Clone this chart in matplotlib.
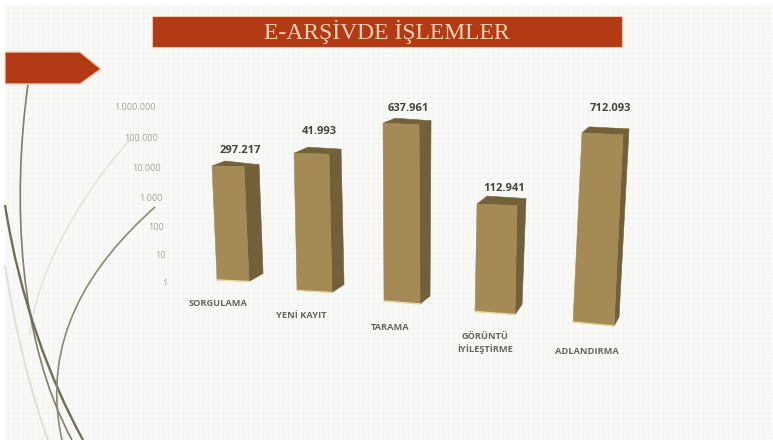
import numpy as np
import matplotlib
matplotlib.use('Agg')
import matplotlib.pyplot as plt
from matplotlib.patches import Polygon, PathPatch, Rectangle
from matplotlib.path import Path
from matplotlib.transforms import Affine2D, IdentityTransform

# values
categories = ['SORGULAMA', 'YENİ KAYIT', 'TARAMA', 'GÖRÜNTÜ\nİYİLEŞTİRME', 'ADLANDIRMA']
value_labels = ['297.217', '41.993', '637.961', '112.941', '712.093']
# bar heights as read against the log axis (the picture does not follow its own labels)
bar_heights = [7700, 48000, 1150000, 4600, 2800000]
tick_values = [1, 10, 100, 1000, 10000, 100000, 1000000]
tick_labels = ['1', '10', '100', '1.000', '10.000', '100.000', '1.000.000']
title = 'E-ARŞİVDE İŞLEMLER'

# perspective of the 3D bars, pixels
shift_x = [6, -2.5, -5, -2, 6.5]
drop = [-3, 7.5, 18, 28.5, 39]
lean = [-5, -3, -1, 2, 9]
widths = [32, 35, 36, 40, 41]
tilt = [1.5, 2, 3, 3, 4]
side_top = [(15, 2), (12, 5), (12, 4), (9, 7), (6, 6)]
side_bottom = [(14, 8), (12, 8), (10, 8), (7, 10), (5, 9)]
top_back = [(13, 5), (14, 6), (12, 5), (10, 8), (7, 6)]
value_offset = [(12, 16), (8, 22), (7, 15), (7, 16), (8, 25)]
xtick_offset = [(-9, -21), (-16, -32), (-17, -44), (-12, -60), (0, -69)]
ytick_offset = [(-1, 0), (-2, -2), (-4, -3), (-5, -3), (-7, -3), (-10, -2), (-12, 0)]

FRONT = '#a48a55'
SIDE = '#73603a'
TOP = '#756139'
RED = '#b23a14'
W, H = 773, 440


def background(ax):
    """Paper texture, banners and curves, in pixel coordinates."""
    ax.set_xlim(0, W)
    ax.set_ylim(H, 0)
    ax.axis('off')
    ax.add_patch(Rectangle((5, 5), W - 5, H - 5, color='#f9f9f7', lw=0, zorder=0))
    ax.vlines(np.arange(8, W, 5), 5, H, color='#f2f2ef', lw=0.5, zorder=0.5)
    ax.hlines(np.arange(8, H, 5), 5, W, color='#f2f2ef', lw=0.5, zorder=0.5)

    ax.add_patch(Rectangle((152, 16), 470, 31, fc=RED, ec='#f0c8a8', lw=0.8, zorder=3))
    ax.add_patch(Polygon([(5, 52), (80, 52), (101, 69), (80, 84), (5, 84)],
                         fc=RED, ec='#f6cdb0', lw=1.0, zorder=3))
    ax.text(387, 31.5, title, color='#f5d3b6', fontsize=17, ha='center', va='center',
            family='Liberation Serif', zorder=4)

    curves = [
        ([(130, 140), (75, 200), (35, 280), (30, 335)], '#e4e4de', 1.2),
        ([(5, 265), (15, 330), (30, 390), (48, 440)], '#e2e0da', 1.5),
        ([(28, 84), (12, 200), (18, 340), (72, 440)], '#7f7f68', 1.2),
        ([(5, 205), (20, 300), (50, 380), (83, 440)], '#6f6f58', 1.7),
        ([(155, 207), (90, 265), (40, 340), (62, 440)], '#8a8a74', 1.2),
    ]
    codes = [Path.MOVETO, Path.CURVE4, Path.CURVE4, Path.CURVE4]
    for pts, color, lw in curves:
        ax.add_patch(PathPatch(Path(pts, codes), fc='none', ec=color, lw=lw, zorder=2))


def draw_bar(ax, i, value):
    """Draw one 3D bar from its value, returns the centre of its front top edge."""
    base = ax.transData.transform((i, 1))
    top = ax.transData.transform((i, value))
    cx = base[0] + shift_x[i]
    w = widths[i]
    y0 = base[1] - drop[i]
    y1 = top[1] - drop[i]

    bl = np.array([cx - w / 2, y0])
    br = np.array([cx + w / 2, y0 - tilt[i]])
    tl = np.array([cx - w / 2 + lean[i], y1])
    tr = np.array([cx + w / 2 + lean[i], y1 - tilt[i] / 2])

    sides = [
        ([br, tr, tr + side_top[i], br + side_bottom[i]], SIDE),
        ([tl, tr, tr + side_top[i], tl + top_back[i]], TOP),
        ([bl, br, tr, tl], FRONT),
    ]
    for pts, color in sides:
        ax.add_patch(Polygon(pts, fc=color, ec=color, lw=0.4,
                             transform=IdentityTransform(), clip_on=False))
    ax.plot([bl[0], br[0]], [bl[1], br[1]], color='#ecd9a4', lw=1.0,
            transform=IdentityTransform(), clip_on=False)
    return (tl + tr) / 2


def shift_label(label, dx, dy):
    label.set_transform(label.get_transform() + Affine2D().translate(dx, dy))


fig = plt.figure(figsize=(W / 100, H / 100), dpi=100, facecolor='white')
bg = fig.add_axes([0, 0, 1, 1])
background(bg)

# chart axes: value 1 sits at y=283 px, 1.000.000 at y=107 px
ax = fig.add_axes([168 / W, (H - 283) / H, 512 / W, 176 / H])
ax.patch.set_visible(False)
ax.set_yscale('log')
ax.set_ylim(1, 1000000)
ax.set_xlim(-0.656, 5.033)
for spine in ax.spines.values():
    spine.set_visible(False)

ax.set_xticks(range(len(categories)), categories)
ax.set_yticks(tick_values, tick_labels)
ax.minorticks_off()
ax.tick_params(axis='both', length=0, pad=0)
for label, (dx, dy) in zip(ax.get_xticklabels(), xtick_offset):
    label.set(family='Open Sans', fontsize=6.7, fontweight='bold', color='#66665f',
              va='center', linespacing=1.35)
    shift_label(label, dx, dy)
for label, (dx, dy) in zip(ax.get_yticklabels(), ytick_offset):
    label.set(family='Open Sans', fontsize=6.5, color='#a2a29c', va='center')
    shift_label(label, dx, dy)

for i, value in enumerate(bar_heights):
    cx, cy = draw_bar(ax, i, value)
    dx, dy = value_offset[i]
    ax.text(cx + dx, cy + dy, value_labels[i], transform=IdentityTransform(),
            family='Open Sans', fontsize=8, fontweight='bold', color='#45453f',
            ha='center', va='center', clip_on=False)

fig.savefig('out.png', dpi=100)
